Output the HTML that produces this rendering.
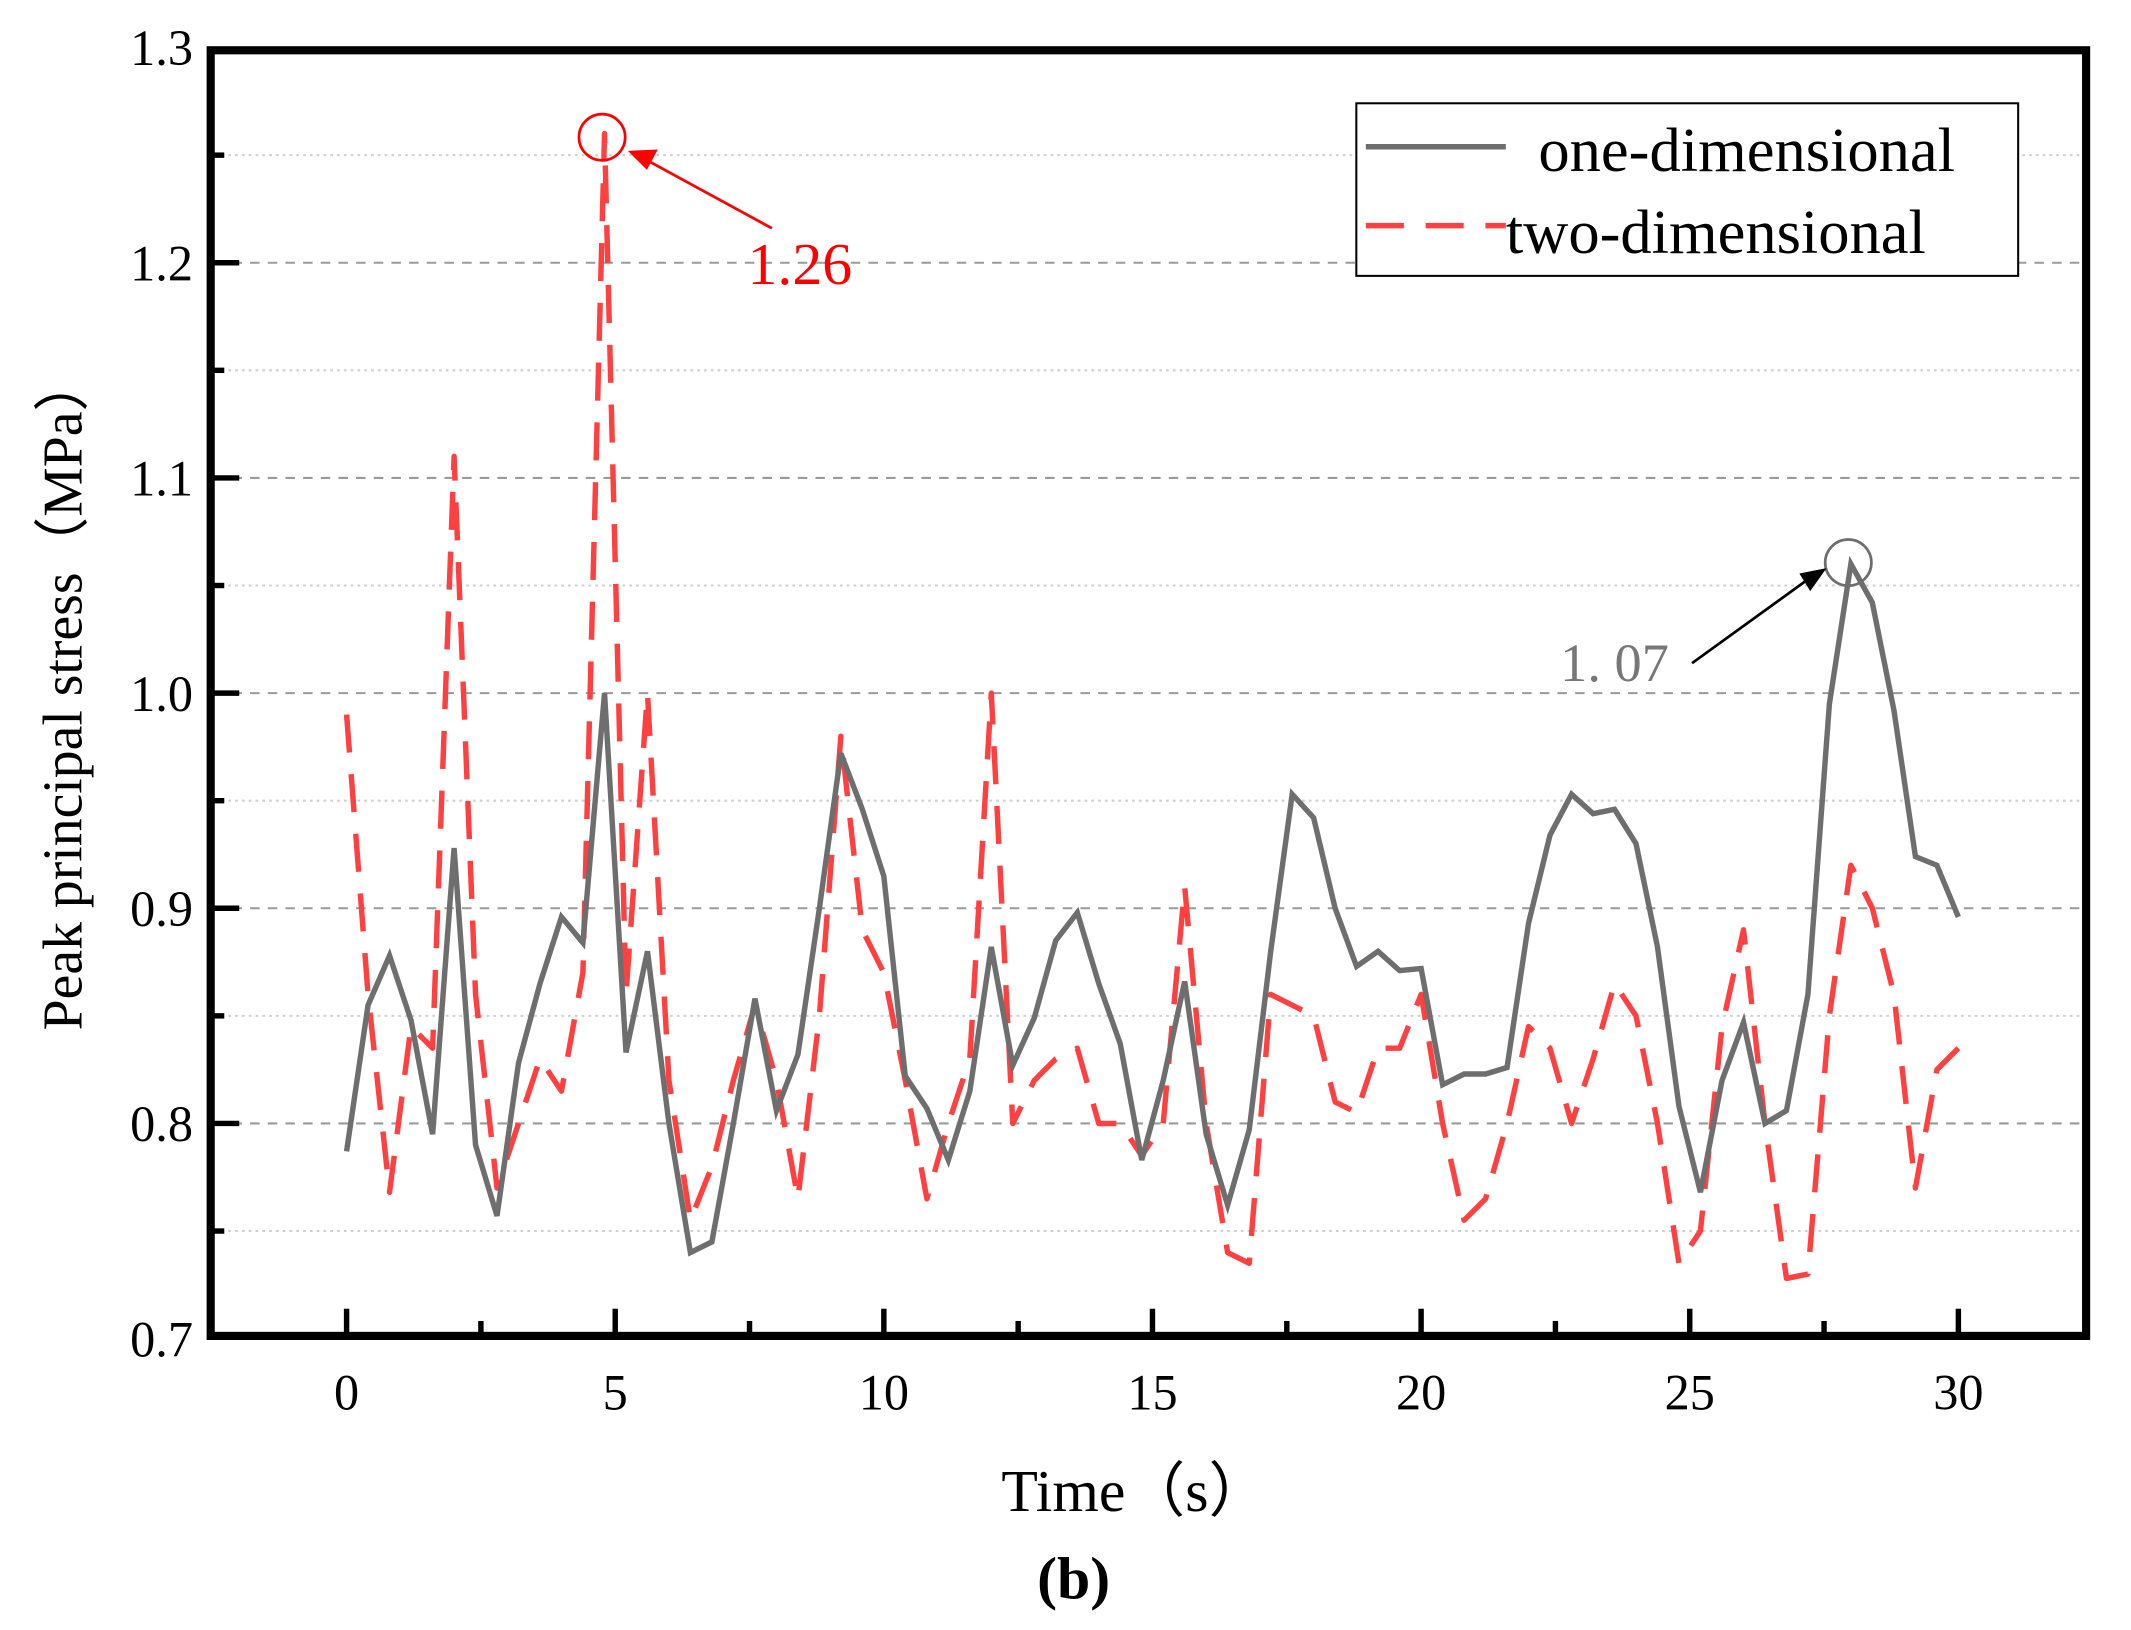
<!DOCTYPE html>
<html><head><meta charset="utf-8"><style>
html,body{margin:0;padding:0;background:#fff;}
svg{display:block;}
text{font-family:"Liberation Serif",serif;}
</style></head><body>
<svg id="chart" width="2131" height="1630" viewBox="0 0 1568 1199.4" xmlns="http://www.w3.org/2000/svg">
<g id="grid"></g>
<g id="series"></g>
<rect x="155" y="37" width="1380" height="946" fill="none" stroke="#000" stroke-width="6"/>
<g id="ticks"></g>
<text x="835" y="1112" font-size="44" text-anchor="middle">Time（s）</text>
<text x="790" y="1176" font-size="44" font-weight="bold" text-anchor="middle">(b)</text>
<text transform="translate(60,510) rotate(-90)" font-size="41" text-anchor="middle">Peak principal stress（MPa）</text>
<g>
<rect x="998" y="76" width="487" height="127" fill="#fff" stroke="#000" stroke-width="1.5"/>
<line x1="1005" y1="108" x2="1108" y2="108" stroke="#6e6e6e" stroke-width="4"/>
<text x="1132" y="126" font-size="46">one-dimensional</text>
<line x1="1005" y1="166" x2="1108" y2="166" stroke="#ff4040" stroke-width="4" stroke-dasharray="28,16"/>
<text x="1108" y="186" font-size="46">two-dimensional</text>
</g>
<g>
<circle cx="443" cy="101" r="17" fill="none" stroke="#ff0000" stroke-width="2"/>
<line x1="568" y1="168" x2="478" y2="119" stroke="#ff0000" stroke-width="2"/>
<polygon points="462,111 484,110 476,125" fill="#ff0000"/>
<text x="550" y="209" font-size="44" fill="#ff0000">1.26</text>
<circle cx="1360" cy="414" r="17" fill="none" stroke="#6e6e6e" stroke-width="2"/>
<line x1="1245" y1="488" x2="1328" y2="428" stroke="#000" stroke-width="2"/>
<polygon points="1344,418 1332,435 1324,422" fill="#000"/>
<text x="1148" y="501" font-size="40" fill="#777">1. 07</text>
</g>
</svg>
<script>
const times=[0,0.4,0.8,1.2,1.6,2.0,2.4,2.8,3.2,3.6,4.0,4.4,4.8,5.2,5.6,6.0,6.4,6.8,7.2,7.6,8.0,8.4,8.8,9.2,9.6,10.0,10.4,10.8,11.2,11.6,12.0,12.4,12.8,13.2,13.6,14.0,14.4,14.8,15.2,15.6,16.0,16.4,16.8,17.2,17.6,18.0,18.4,18.8,19.2,19.6,20.0,20.4,20.8,21.2,21.6,22.0,22.4,22.8,23.2,23.6,24.0,24.4,24.8,25.2,25.6,26.0,26.4,26.8,27.2,27.6,28.0,28.4,28.8,29.2,29.6,30.0];
const oneDim=[0.787,0.855,0.878,0.848,0.795,0.928,0.79,0.757,0.828,0.865,0.896,0.884,1.0,0.833,0.88,0.8,0.74,0.745,0.8,0.858,0.806,0.832,0.9,0.972,0.946,0.915,0.822,0.807,0.783,0.815,0.882,0.827,0.849,0.885,0.898,0.865,0.837,0.783,0.82,0.866,0.795,0.762,0.797,0.88,0.953,0.942,0.9,0.873,0.88,0.871,0.872,0.818,0.823,0.823,0.826,0.893,0.934,0.953,0.944,0.946,0.93,0.882,0.808,0.768,0.82,0.847,0.8,0.806,0.86,0.995,1.06,1.042,0.992,0.924,0.92,0.896];
const twoDim=[0.99,0.86,0.768,0.845,0.835,1.11,0.86,0.77,0.8,0.83,0.815,0.87,1.26,0.86,1.0,0.82,0.755,0.78,0.82,0.855,0.82,0.765,0.85,0.98,0.89,0.87,0.82,0.765,0.8,0.83,1.0,0.8,0.82,0.83,0.835,0.8,0.8,0.785,0.8,0.91,0.8,0.74,0.735,0.86,0.855,0.85,0.81,0.805,0.835,0.835,0.86,0.8,0.755,0.765,0.8,0.845,0.835,0.8,0.83,0.865,0.85,0.8,0.735,0.75,0.845,0.89,0.8,0.728,0.73,0.85,0.92,0.9,0.86,0.77,0.825,0.835];
const xTicks=[0,5,10,15,20,25,30];
const xMinor=[2.5,7.5,12.5,17.5,22.5,27.5];
const yTicks=[0.7,0.8,0.9,1.0,1.1,1.2,1.3];
const yMinor=[0.75,0.85,0.95,1.05,1.15,1.25];
const NS='http://www.w3.org/2000/svg';
const X=t=>255+(t-0)*(1441-255)/30;
const Y=v=>985-(v-0.7)*(985-35)/0.6;
function mk(tag,attrs,parent){const e=document.createElementNS(NS,tag);for(const k in attrs)e.setAttribute(k,attrs[k]);parent.appendChild(e);return e;}
const grid=document.getElementById('grid'),ticks=document.getElementById('ticks'),series=document.getElementById('series');
yTicks.forEach(v=>{
 if(v>0.7&&v<1.3){const l=mk('line',{x1:158,x2:1532,y1:Y(v),y2:Y(v),stroke:'#9a9a9a','stroke-width':1.5,'stroke-dasharray':'7,6'},grid);
 
 
 const t=mk('line',{x1:155,x2:176,y1:Y(v),y2:Y(v),stroke:'#000','stroke-width':4},ticks);
 
 }
 const lb=mk('text',{x:142,y:Y(v)+13,'font-size':37,'text-anchor':'end'},ticks);lb.textContent=v.toFixed(1);
 
 
});
yMinor.forEach(v=>{
 const l=mk('line',{x1:158,x2:1532,y1:Y(v),y2:Y(v),stroke:'#cfcfcf','stroke-width':1.5,'stroke-dasharray':'2,3'},grid);
 
 
 const t=mk('line',{x1:155,x2:165,y1:Y(v),y2:Y(v),stroke:'#000','stroke-width':4},ticks);
 
 
});
xTicks.forEach(t=>{
 const l=mk('line',{x1:X(t),x2:X(t),y1:983,y2:963,stroke:'#000','stroke-width':4},ticks);
 
 
 const lb=mk('text',{x:X(t),y:1037,'font-size':37,'text-anchor':'middle'},ticks);lb.textContent=t;
 
 
});
xMinor.forEach(t=>{
 const l=mk('line',{x1:X(t),x2:X(t),y1:983,y2:972,stroke:'#000','stroke-width':4},ticks);
 
 
});
const pts=a=>a.map((v,i)=>X(times[i]).toFixed(1)+','+Y(v).toFixed(1)).join(' ');
const p2=mk('polyline',{points:pts(twoDim),fill:'none',stroke:'#ff4040','stroke-width':4,'stroke-dasharray':'28,16','stroke-linejoin':'round'},series);


const p1=mk('polyline',{points:pts(oneDim),fill:'none',stroke:'#6e6e6e','stroke-width':4,'stroke-linejoin':'miter'},series);


</script>
</body></html>
